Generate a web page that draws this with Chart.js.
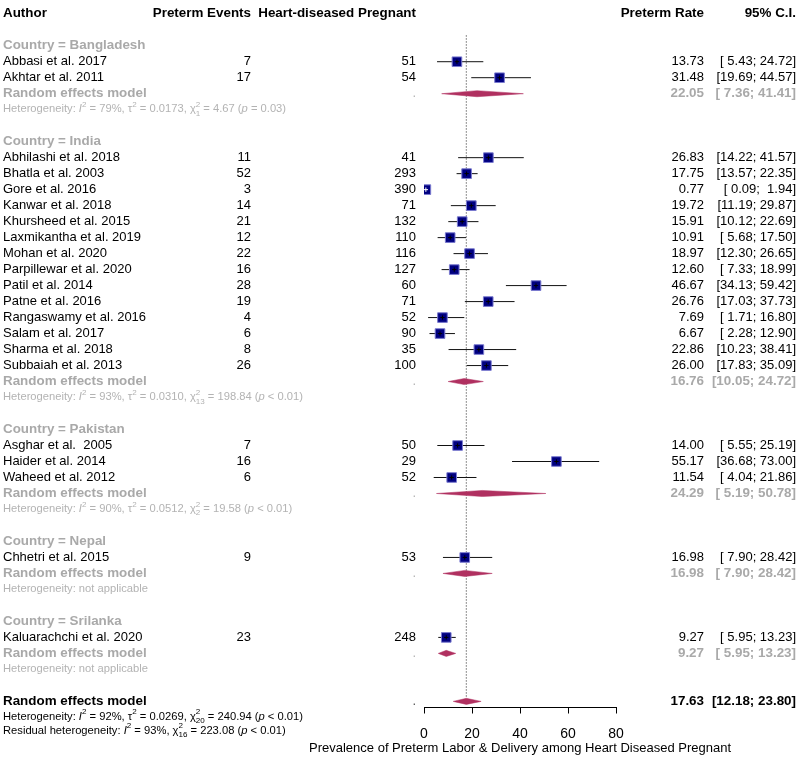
<!DOCTYPE html>
<html>
<head>
<meta charset="utf-8">
<title>Forest plot - preterm rate</title>
<script src="https://cdn.jsdelivr.net/npm/chart.js@4.4.0/dist/chart.umd.min.js"></script>
<style>
    html, body { margin: 0; padding: 0; background: #fff; }
    #wrap { width: 797px; height: 757px; }
</style>
</head>
<body>
<div id="wrap"><canvas id="forestChart" width="797" height="757"></canvas></div>
<script>
// ---- data ----
const countries = ['Bangladesh', 'India', 'Pakistan', 'Nepal', 'Srilanka'];
const authors = [
    'Abbasi et al. 2017', 'Akhtar et al. 2011',
    'Abhilashi et al. 2018', 'Bhatla et al. 2003', 'Gore et al. 2016', 'Kanwar et al. 2018',
    'Khursheed et al. 2015', 'Laxmikantha et al. 2019', 'Mohan et al. 2020', 'Parpillewar et al. 2020',
    'Patil et al. 2014', 'Patne et al. 2016', 'Rangaswamy et al. 2016', 'Salam et al. 2017',
    'Sharma et al. 2018', 'Subbaiah et al. 2013',
    'Asghar et al.  2005', 'Haider et al. 2014', 'Waheed et al. 2012',
    'Chhetri et al. 2015',
    'Kaluarachchi et al. 2020'
];
const studyCountry = [0, 0, 1, 1, 1, 1, 1, 1, 1, 1, 1, 1, 1, 1, 1, 1, 2, 2, 2, 3, 4];
const events = [7, 17, 11, 52, 3, 14, 21, 12, 22, 16, 28, 19, 4, 6, 8, 26, 7, 16, 6, 9, 23];
const totals = [51, 54, 41, 293, 390, 71, 132, 110, 116, 127, 60, 71, 52, 90, 35, 100, 50, 29, 52, 53, 248];
const rates = [13.73, 31.48, 26.83, 17.75, 0.77, 19.72, 15.91, 10.91, 18.97, 12.60, 46.67, 26.76, 7.69, 6.67, 22.86, 26.00, 14.00, 55.17, 11.54, 16.98, 9.27];
const lower = [5.43, 19.69, 14.22, 13.57, 0.09, 11.19, 10.12, 5.68, 12.30, 7.33, 34.13, 17.03, 1.71, 2.28, 10.23, 17.83, 5.55, 36.68, 4.04, 7.90, 5.95];
const upper = [24.72, 44.57, 41.57, 22.35, 1.94, 29.87, 22.69, 17.50, 26.65, 18.99, 59.42, 37.73, 16.80, 12.90, 38.41, 35.09, 25.19, 73.00, 21.86, 28.42, 13.23];

const subRate = [22.05, 16.76, 24.29, 16.98, 9.27];
const subLower = [7.36, 10.05, 5.19, 7.90, 5.95];
const subUpper = [41.41, 24.72, 50.78, 28.42, 13.23];
const subI2 = ['79%', '93%', '90%', null, null];
const subTau2 = ['0.0173', '0.0310', '0.0512', null, null];
const subDf = ['1', '13', '2', null, null];
const subQ = ['4.67', '198.84', '19.58', null, null];
const subP = ['= 0.03', '< 0.01', '< 0.01', null, null];

const overallEst = [17.63, 12.18, 23.80];          // estimate, lower, upper
const overallHet = ['92%', '0.0269', '20', '240.94', '< 0.01'];
const residualHet = ['93%', '16', '223.08', '< 0.01'];

const xTicks = [0, 20, 40, 60, 80];
const headers = ['Author', 'Preterm Events', 'Heart-diseased Pregnant', 'Preterm Rate', '95% C.I.'];
const xTitle = 'Prevalence of Preterm Labor & Delivery among Heart Diseased Pregnant';

// ---- row layout ----
const studyRow = [];
const headRow = [];
const subRow = [];
let row = 2;
countries.forEach((c, g) => {
    headRow.push(row);
    row++;
    authors.forEach((a, i) => {
        if (studyCountry[i] === g) { studyRow[i] = row; row++; }
    });
    subRow.push(row);
    row += 3;
});
const overallRow = row;

const FAMILY = '"Liberation Sans", Arial, sans-serif';
const GRAY = '#a9a9a9';
const LIGHT = '#b3b3b3';
const MAROON = '#b03060';
const DIAMOND_H = 0.19;
const BOLD_SIZE = 13.4;
const HET_SIZE = 11.2;

function fmtCI(lo, hi) {
    return '[' + lo.toFixed(2).padStart(5, ' ') + '; ' + hi.toFixed(2).padStart(5, ' ') + ']';
}

function diamondDatasets(est, lo, hi, r) {
    return [
        {
            type: 'line',
            data: [{ x: lo, y: r }, { x: est, y: r - DIAMOND_H }, { x: hi, y: r }],
            borderColor: MAROON, borderWidth: 0.5, pointRadius: 0,
            backgroundColor: MAROON, fill: '+1', order: 30
        },
        {
            type: 'line',
            data: [{ x: lo, y: r }, { x: est, y: r + DIAMOND_H }, { x: hi, y: r }],
            borderColor: MAROON, borderWidth: 0.5, pointRadius: 0,
            backgroundColor: MAROON, fill: false, order: 30
        }
    ];
}

const datasets = [];
datasets.push({
    type: 'line',
    data: [{ x: overallEst[0], y: 1.36 }, { x: overallEst[0], y: overallRow - 0.25 }],
    borderColor: '#222', borderWidth: 1, borderDash: [1, 2], pointRadius: 0, fill: false, order: 50
});
authors.forEach((a, i) => {
    datasets.push({
        type: 'line',
        data: [{ x: lower[i], y: studyRow[i] }, { x: upper[i], y: studyRow[i] }],
        borderColor: '#111', borderWidth: 1, pointRadius: 0, fill: false, order: 40
    });
});
countries.forEach((c, g) => {
    diamondDatasets(subRate[g], subLower[g], subUpper[g], subRow[g]).forEach(d => datasets.push(d));
});
diamondDatasets(overallEst[0], overallEst[1], overallEst[2], overallRow).forEach(d => datasets.push(d));
datasets.push({
    type: 'scatter',
    data: rates.map((r, i) => ({ x: r, y: studyRow[i] })),
    pointStyle: 'rect', pointRadius: 6.8,
    backgroundColor: '#000080', borderColor: '#7a7ad0', borderWidth: 1, order: 20
});
datasets.push({
    type: 'scatter',
    data: rates.map((r, i) => ({ x: r, y: studyRow[i] })),
    pointStyle: 'cross', pointRadius: 2.2,
    borderColor: rates.map((r, i) => (upper[i] - lower[i] < 3 ? '#fff' : '#000')),
    borderWidth: 1, order: 10
});

function drawRich(ctx, parts, x, y, size, color) {
    let cx = x;
    ctx.textAlign = 'left';
    ctx.textBaseline = 'middle';
    ctx.fillStyle = color;
    const small = size * 0.72;
    parts.forEach(p => {
        if (p.sup !== undefined || p.sub !== undefined) {
            ctx.font = small + 'px ' + FAMILY;
            let w = 0;
            if (p.sup) { ctx.fillText(p.sup, cx, y - size * 0.42); w = Math.max(w, ctx.measureText(p.sup).width); }
            if (p.sub) { ctx.fillText(p.sub, cx, y + size * 0.38); w = Math.max(w, ctx.measureText(p.sub).width); }
            cx += w;
        } else {
            ctx.font = (p.it ? 'italic ' : '') + size + 'px ' + FAMILY;
            ctx.fillText(p.t, cx, y);
            cx += ctx.measureText(p.t).width;
        }
    });
}

function hetParts(label, i2, tau2, df, q, p) {
    const parts = [{ t: label }, { t: 'I', it: true }, { sup: '2' }, { t: ' = ' + i2 + ', ' }];
    if (tau2 !== null) parts.push({ t: 'τ' }, { sup: '2' }, { t: ' = ' + tau2 + ', ' });
    parts.push({ t: 'χ' }, { sup: '2', sub: df }, { t: ' = ' + q + ' (' }, { t: 'p', it: true }, { t: ' ' + p + ')' });
    return parts;
}

const textPlugin = {
    id: 'forestText',
    afterDraw(chart) {
        const ctx = chart.ctx;
        const ys = chart.scales.y;
        const xs = chart.scales.x;
        const py = r => ys.getPixelForValue(r);
        const put = (s, x, y, opt) => {
            ctx.font = (opt.bold ? 'bold ' : '') + (opt.size || (opt.bold ? BOLD_SIZE : 13)) + 'px ' + FAMILY;
            ctx.fillStyle = opt.color || '#000';
            ctx.textAlign = opt.align || 'left';
            ctx.textBaseline = 'middle';
            ctx.fillText(s, x, y);
        };
        const colX = [3, 251, 416, 704, 796];
        ctx.save();
        // header
        put(headers[0], colX[0], py(0), { bold: true });
        put(headers[1], colX[1], py(0), { bold: true, align: 'right' });
        put(headers[2], colX[2], py(0), { bold: true, align: 'right' });
        put(headers[3], colX[3], py(0), { bold: true, align: 'right' });
        put(headers[4], colX[4], py(0), { bold: true, align: 'right' });

        // studies
        authors.forEach((a, i) => {
            const y = py(studyRow[i]);
            put(a, colX[0], y, {});
            put(String(events[i]), colX[1], y, { align: 'right' });
            put(String(totals[i]), colX[2], y, { align: 'right' });
            put(rates[i].toFixed(2), colX[3], y, { align: 'right' });
            put(fmtCI(lower[i], upper[i]), colX[4], y, { align: 'right' });
        });

        // subgroups
        countries.forEach((c, g) => {
            put('Country = ' + c, colX[0], py(headRow[g]), { bold: true, color: GRAY });
            const y = py(subRow[g]);
            put('Random effects model', colX[0], y, { bold: true, color: GRAY });
            put('.', colX[2], y, { color: LIGHT, align: 'right' });
            put(subRate[g].toFixed(2), colX[3], y, { bold: true, color: GRAY, align: 'right' });
            put(fmtCI(subLower[g], subUpper[g]), colX[4], y, { bold: true, color: GRAY, align: 'right' });
            const hy = py(subRow[g] + 0.97);
            if (subI2[g] === null) {
                drawRich(ctx, [{ t: 'Heterogeneity: not applicable' }], colX[0], hy, HET_SIZE, LIGHT);
            } else {
                drawRich(ctx, hetParts('Heterogeneity: ', subI2[g], subTau2[g], subDf[g], subQ[g], subP[g]), colX[0], hy, HET_SIZE, LIGHT);
            }
        });

        // overall
        const oy = py(overallRow);
        put('Random effects model', colX[0], oy, { bold: true });
        put('.', colX[2], oy, { color: '#555', align: 'right' });
        put(overallEst[0].toFixed(2), colX[3], oy, { bold: true, align: 'right' });
        put(fmtCI(overallEst[1], overallEst[2]), colX[4], oy, { bold: true, align: 'right' });
        drawRich(ctx, hetParts('Heterogeneity: ', overallHet[0], overallHet[1], overallHet[2], overallHet[3], overallHet[4]),
            colX[0], py(overallRow + 0.97), HET_SIZE, '#000');
        drawRich(ctx, hetParts('Residual heterogeneity: ', residualHet[0], null, residualHet[1], residualHet[2], residualHet[3]),
            colX[0], py(overallRow + 1.82), HET_SIZE, '#000');

        // axis title, centred under the x axis
        put(xTitle, (xs.left + xs.right) / 2, 748, { size: 13, align: 'center' });
        ctx.restore();
    }
};

const chart = new Chart(document.getElementById('forestChart').getContext('2d'), {
    type: 'scatter',
    data: { datasets: datasets },
    options: {
        responsive: false,
        animation: false,
        layout: { padding: { left: 424, right: 181, top: 0, bottom: 0 } },
        plugins: {
            legend: { display: false },
            tooltip: { enabled: false }
        },
        scales: {
            x: {
                type: 'linear',
                min: 0,
                max: 80,
                afterBuildTicks: s => { s.ticks = xTicks.map(v => ({ value: v })); },
                afterFit: s => { s.height = 49.5; },
                grid: { drawOnChartArea: false, drawTicks: true, tickLength: 6, color: '#000' },
                border: { display: true, color: '#000', width: 1 },
                ticks: { color: '#000', padding: 12, font: { family: FAMILY, size: 14 } },
                title: { display: false }
            },
            y: {
                type: 'linear',
                display: false,
                reverse: true,
                min: -6 / 16.17,
                max: 701.5 / 16.17
            }
        }
    },
    plugins: [textPlugin]
});
</script>
</body>
</html>
